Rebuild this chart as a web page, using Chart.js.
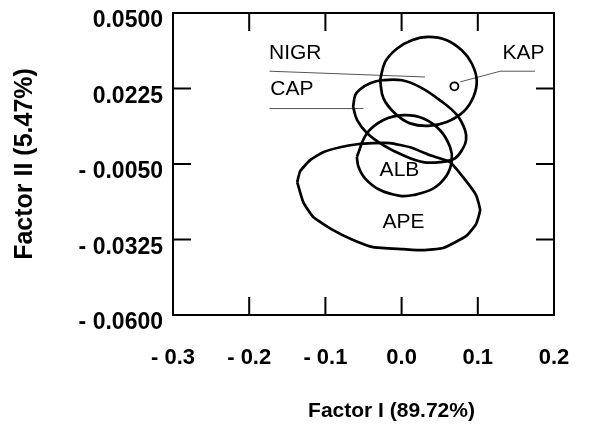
<!DOCTYPE html>
<html lang="en">
<head>
    <meta charset="UTF-8">
    <title>Factor plot</title>
    <script src="https://cdn.jsdelivr.net/npm/chart.js"></script>
    <style>
        body { margin: 0; background: #fff; }
        #wrap { width: 592px; height: 429px; }
    </style>
</head>
<body>
    <div id="wrap"><canvas id="chart"></canvas></div>

    <script>
        // axis ticks
        const xTickValues = [-0.3, -0.2, -0.1, 0.0, 0.1, 0.2];
        const xTickLabels = ['- 0.3', '- 0.2', '- 0.1', '0.0', '0.1', '0.2'];
        const yTickValues = [-0.06, -0.0325, -0.005, 0.0225, 0.05];
        const yTickLabels = ['- 0.0600', '- 0.0325', '- 0.0050', '0.0225', '0.0500'];

        // group outlines
        const kapX = [-0.0282, -0.0216, -0.0063, 0.0134, 0.0352, 0.0593, 0.0790, 0.0921, 0.0986, 0.0942, 0.0811, 0.0593, 0.0352, 0.0112, -0.0085, -0.0238, -0.0282];
        const kapY = [0.0255, 0.0322, 0.0370, 0.0401, 0.0413, 0.0401, 0.0364, 0.0316, 0.0255, 0.0194, 0.0140, 0.0103, 0.0089, 0.0098, 0.0134, 0.0189, 0.0255];

        const capX = [-0.0636, -0.0609, -0.0544, -0.0413, -0.0255, 0.0007, 0.0243, 0.0505, 0.0728, 0.0833, 0.0846, 0.0807, 0.0702, 0.0505, 0.0282, 0.0020, -0.0242, -0.0452, -0.0583, -0.0636];
        const capY = [0.0157, 0.0200, 0.0222, 0.0244, 0.0255, 0.0255, 0.0230, 0.0182, 0.0128, 0.0073, 0.0037, 0.0008, -0.0029, -0.0043, -0.0043, -0.0018, 0.0019, 0.0062, 0.0110, 0.0157];

        const albX = [-0.0587, -0.0456, -0.0238, 0.0024, 0.0286, 0.0505, 0.0636, 0.0659, 0.0593, 0.0417, 0.0155, -0.0019, -0.0282, -0.0478, -0.0566, -0.0587];
        const albY = [-0.0024, 0.0061, 0.0110, 0.0128, 0.0116, 0.0073, 0.0012, -0.0036, -0.0091, -0.0139, -0.0163, -0.0166, -0.0145, -0.0103, -0.0060, -0.0024];

        const apeX = [-0.1370, -0.1331, -0.1200, -0.1029, -0.0806, -0.0583, -0.0373, -0.0151, 0.0112, 0.0374, 0.0636, 0.0807, 0.0977, 0.1030, 0.0977, 0.0846, 0.0545, 0.0282, 0.0020, -0.0373, -0.0636, -0.0898, -0.1160, -0.1291, -0.1370];
        const apeY = [-0.0116, -0.0076, -0.0036, -0.0007, 0.0011, 0.0022, 0.0026, 0.0026, 0.0011, -0.0018, -0.0043, -0.0098, -0.0163, -0.0218, -0.0269, -0.0313, -0.0356, -0.0364, -0.0360, -0.0353, -0.0327, -0.0291, -0.0243, -0.0189, -0.0116];

        // KAP point and the leader lines
        const kapPointX = [0.0693];
        const kapPointY = [0.0233];
        const kapLeadX = [0.0768, 0.1295, 0.175];
        const kapLeadY = [0.0249, 0.0288, 0.0288];
        const nigrLeadX = [-0.1733, 0.0308];
        const nigrLeadY = [0.0288, 0.0267];
        const capLeadX = [-0.1733, -0.050];
        const capLeadY = [0.0152, 0.0152];

        // group names
        const groupNames = ['NIGR', 'CAP', 'KAP', 'ALB', 'APE'];
        const groupNameX = [-0.1396, -0.1440, 0.1600, -0.0028, 0.0024];
        const groupNameY = [0.0355, 0.0221, 0.0352, -0.0073, -0.0261];

        const xTitle = 'Factor I (89.72%)';
        const yTitle = 'Factor II (5.47%)';

        const FONT = 'Arial, "Liberation Sans", Helvetica, sans-serif';

        function pts(xs, ys) {
            return xs.map((x, i) => ({ x: x, y: ys[i] }));
        }

        function outline(xs, ys, tension) {
            return {
                data: pts(xs, ys),
                showLine: true,
                borderColor: '#000',
                borderWidth: 2.7,
                pointRadius: 0,
                tension: tension,
                fill: false
            };
        }

        function leader(xs, ys) {
            return {
                data: pts(xs, ys),
                showLine: true,
                borderColor: '#555',
                borderWidth: 1,
                pointRadius: 0,
                fill: false
            };
        }

        const framePlugin = {
            id: 'frame',
            afterDatasetsDraw(chart) {
                const ctx = chart.ctx;
                const a = chart.chartArea;
                const xs = chart.scales.x;
                const ys = chart.scales.y;
                const len = 18;
                ctx.save();
                ctx.strokeStyle = '#000';
                ctx.lineWidth = 2;
                ctx.strokeRect(a.left, a.top, a.right - a.left, a.bottom - a.top);
                ctx.beginPath();
                xTickValues.slice(1, -1).forEach(v => {
                    const px = xs.getPixelForValue(v);
                    ctx.moveTo(px, a.bottom); ctx.lineTo(px, a.bottom - len);
                    ctx.moveTo(px, a.top); ctx.lineTo(px, a.top + len);
                });
                yTickValues.slice(1, -1).forEach(v => {
                    const py = ys.getPixelForValue(v);
                    ctx.moveTo(a.left, py); ctx.lineTo(a.left + len, py);
                    ctx.moveTo(a.right, py); ctx.lineTo(a.right - len, py);
                });
                ctx.stroke();

                // group names
                ctx.fillStyle = '#000';
                ctx.font = '21px ' + FONT;
                ctx.textAlign = 'center';
                ctx.textBaseline = 'middle';
                groupNames.forEach((n, i) => {
                    ctx.fillText(n, xs.getPixelForValue(groupNameX[i]), ys.getPixelForValue(groupNameY[i]));
                });

                // x axis title
                ctx.font = 'bold 21px ' + FONT;
                ctx.fillText(xTitle, (a.left + a.right) / 2 + 28, 411);
                ctx.restore();
            }
        };

        const ctx = document.getElementById('chart').getContext('2d');

        new Chart(ctx, {
            type: 'scatter',
            data: {
                datasets: [
                    outline(kapX, kapY, 0.4),
                    outline(capX, capY, 0.4),
                    outline(albX, albY, 0.4),
                    outline(apeX, apeY, 0.15),
                    leader(kapLeadX, kapLeadY),
                    leader(nigrLeadX, nigrLeadY),
                    leader(capLeadX, capLeadY),
                    {
                        data: pts(kapPointX, kapPointY),
                        pointRadius: 4,
                        pointBorderWidth: 1.8,
                        pointBorderColor: '#000',
                        pointBackgroundColor: '#fff'
                    }
                ]
            },
            options: {
                responsive: true,
                maintainAspectRatio: false,
                animation: false,
                layout: { padding: { left: 0, right: 38, top: 13, bottom: 0 } },
                plugins: {
                    legend: { display: false },
                    tooltip: { enabled: false }
                },
                scales: {
                    x: {
                        type: 'linear',
                        min: -0.3,
                        max: 0.2,
                        grid: { display: false, drawTicks: false },
                        border: { display: false },
                        afterBuildTicks: s => { s.ticks = xTickValues.map(v => ({ value: v })); },
                        afterFit: s => { s.height = 114; s.paddingLeft = 0; s.paddingRight = 0; },
                        ticks: {
                            padding: 30,
                            color: '#000',
                            font: { family: FONT, size: 22, weight: 'bold' },
                            maxRotation: 0,
                            callback: (v, i) => xTickLabels[i]
                        }
                    },
                    y: {
                        type: 'linear',
                        min: -0.06,
                        max: 0.05,
                        grid: { display: false, drawTicks: false },
                        border: { display: false },
                        afterBuildTicks: s => { s.ticks = yTickValues.map(v => ({ value: v })); },
                        afterFit: s => { s.width = 173; s.paddingTop = 0; s.paddingBottom = 0; },
                        title: {
                            display: true,
                            text: yTitle,
                            color: '#000',
                            font: { family: FONT, size: 25, weight: 'bold' },
                            padding: { top: 10, bottom: 0 }
                        },
                        ticks: {
                            padding: 10,
                            labelOffset: 8,
                            color: '#000',
                            font: { family: FONT, size: 23, weight: 'bold' },
                            callback: (v, i) => yTickLabels[i]
                        }
                    }
                }
            },
            plugins: [framePlugin]
        });
    </script>
</body>
</html>
